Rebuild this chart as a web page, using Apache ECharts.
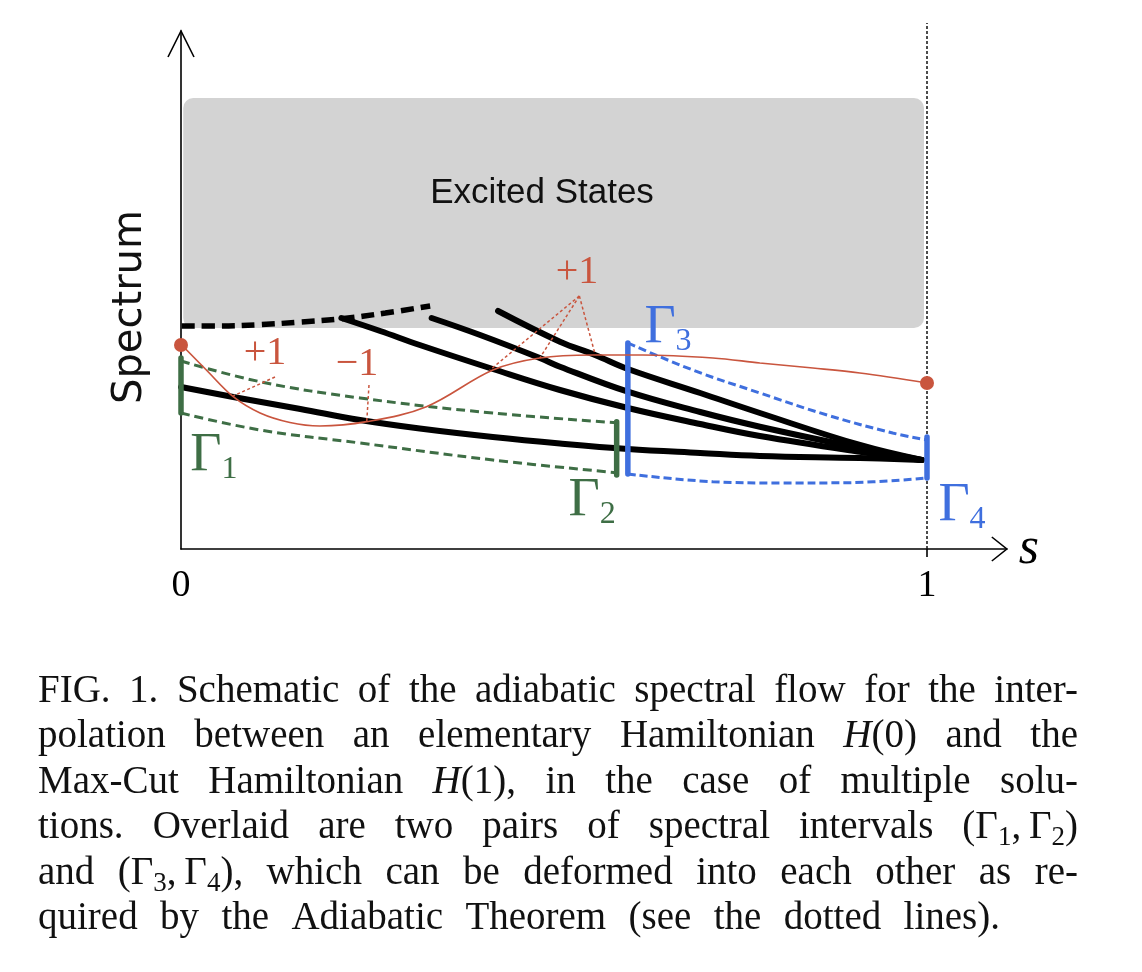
<!DOCTYPE html>
<html>
<head>
<meta charset="utf-8">
<title>Adiabatic spectral flow</title>
<script src="https://cdn.jsdelivr.net/npm/echarts@6.0.0/dist/echarts.min.js"></script>
<style>
  html, body { margin: 0; padding: 0; background: #fff; }
  #main { width: 1142px; height: 972px; }
</style>
</head>
<body>
<div id="main"></div>
<script>
// ---- data: s on the x axis, energy ("Spectrum") on the y axis ----
const sTicks = [0, 1];
const sTickLabels = ['0', '1'];

const excitedBand = [[0.003, 2.21, 0.996, 4.51]]; // [s0, low, s1, high]
const excitedEdge = [[0.001, 2.23], [0.052, 2.23], [0.106, 2.243], [0.160, 2.27], [0.213, 2.30], [0.274, 2.36], [0.334, 2.43]];

const levelA = [[0, 1.62], [0.070, 1.52], [0.160, 1.40], [0.240, 1.29], [0.320, 1.205], [0.418, 1.12], [0.508, 1.055], [0.599, 1.00], [0.696, 0.96], [0.776, 0.93], [0.910, 0.91], [0.993, 0.89]];
const levelB = [[0.215, 2.31], [0.267, 2.18], [0.320, 2.04], [0.418, 1.80], [0.508, 1.59], [0.599, 1.41], [0.696, 1.25], [0.776, 1.13], [0.910, 0.973], [0.993, 0.89]];
const levelC = [[0.336, 2.31], [0.401, 2.14], [0.481, 1.91], [0.508, 1.823], [0.599, 1.573], [0.696, 1.37], [0.776, 1.223], [0.910, 1.01], [0.993, 0.89]];
const levelD = [[0.425, 2.38], [0.508, 2.073], [0.555, 1.94], [0.599, 1.80], [0.696, 1.56], [0.776, 1.36], [0.910, 1.04], [0.993, 0.89]];

const flowCurve = [[0.001, 2.04], [0.034, 1.79], [0.070, 1.523], [0.106, 1.36], [0.146, 1.265], [0.186, 1.23], [0.249, 1.273], [0.329, 1.423], [0.418, 1.79], [0.481, 1.91], [0.552, 1.94], [0.619, 1.94], [0.713, 1.91], [0.776, 1.86], [0.847, 1.81], [0.910, 1.76], [1.0, 1.66]];
const flowEnds = [[0, 2.04], [1, 1.66]];

const gamma1 = [[0, 1.91], [0, 1.36]];
const gamma2 = [[0.584, 1.273], [0.584, 0.74]];
const greenUpper = [[0, 1.88], [0.106, 1.673], [0.240, 1.51], [0.418, 1.36], [0.584, 1.263]];
const greenLower = [[0, 1.36], [0.106, 1.19], [0.240, 1.06], [0.418, 0.89], [0.584, 0.763]];

const gamma3 = [[0.599, 2.06], [0.599, 0.75]];
const gamma4 = [[1, 1.12], [1, 0.71]];
const blueUpper = [[0.599, 2.06], [0.686, 1.79], [0.776, 1.56], [0.866, 1.34], [0.954, 1.16], [1, 1.09]];
const blueLower = [[0.599, 0.75], [0.713, 0.673], [0.803, 0.66], [0.893, 0.663], [1, 0.71]];

const endLine = [[1, 0], [1, 5.26]];

const leaders = [
  [[0.126, 1.72], [0.070, 1.53]],
  [[0.252, 1.64], [0.249, 1.273]],
  [[0.534, 2.53], [0.414, 1.79]],
  [[0.534, 2.53], [0.481, 1.91]],
  [[0.534, 2.53], [0.555, 1.95]]
];
const countLabels = ['+1', '\u22121', '+1'];
const countAt = [[0.1126, 1.96], [0.236, 1.85], [0.5308, 2.77]];

const gammaSubs = ['1', '2', '3', '4'];
const gammaAt = [[0.0442, 0.93], [0.551, 0.48], [0.6528, 2.21], [1.0469, 0.43]];

const captionLines = [
  'FIG. 1. Schematic of the adiabatic spectral flow for the inter-',
  'polation between an elementary Hamiltonian *H*(0) and the',
  'Max-Cut Hamiltonian *H*(1), in the case of multiple solu-',
  'tions. Overlaid are two pairs of spectral intervals (\u0393_1,\u2009\u0393_2)',
  'and (\u0393_3,\u2009\u0393_4), which can be deformed into each other as re-',
  'quired by the Adiabatic Theorem (see the dotted lines).'
];
const captionRight = [1078, 1078, 1078, 1078, 1078, 1000];

// ---- styles ----
const RED = '#c9553e', GREEN = '#3e6e45', BLUE = '#3f6fde';
const SERIF = '"Liberation Serif", "Times New Roman", serif';
const SANS = '"Liberation Sans", Arial, Helvetica, sans-serif';
const X_MAX = 1.107, Y_MAX = 5.18;

const chart = echarts.init(document.getElementById('main'));

function curve(data, color, width, type, extra) {
  return Object.assign({
    type: 'line', data: data, showSymbol: false, symbol: 'none', silent: true,
    lineStyle: { color: color, width: width, type: type || 'solid', cap: 'round' }
  }, extra || {});
}

const series = [
  {
    type: 'custom', silent: true, z: 1,
    data: excitedBand,
    renderItem: function (params, api) {
      const p0 = api.coord([api.value(0), api.value(3)]);
      const p1 = api.coord([api.value(2), api.value(1)]);
      return {
        type: 'rect',
        shape: { x: p0[0], y: p0[1], width: p1[0] - p0[0], height: p1[1] - p0[1], r: 10 },
        style: { fill: '#d3d3d3' }
      };
    }
  },
  curve(endLine, '#111', 1.5, [3, 2], { clip: false, z: 2, lineStyle: { color: '#111', width: 1.5, type: [3, 2] } }),
  curve(greenUpper, GREEN, 3, [9, 5], { smooth: 0.4, z: 3, lineStyle: { color: GREEN, width: 3, type: [9, 5] } }),
  curve(greenLower, GREEN, 3, [9, 5], { smooth: 0.4, z: 3, lineStyle: { color: GREEN, width: 3, type: [9, 5] } }),
  curve(blueUpper, BLUE, 3, [8, 4], { smooth: 0.4, z: 3, lineStyle: { color: BLUE, width: 3, type: [8, 4] } }),
  curve(blueLower, BLUE, 3, [8, 4], { smooth: 0.4, z: 3, lineStyle: { color: BLUE, width: 3, type: [8, 4] } }),
  curve(excitedEdge, '#000', 5.5, [13, 7], { smooth: 0.4, z: 4, lineStyle: { color: '#000', width: 5.5, type: [13, 7] } }),
  curve(levelA, '#000', 6, 'solid', { smooth: 0.4, z: 4 }),
  curve(levelB, '#000', 6, 'solid', { smooth: 0.4, z: 4 }),
  curve(levelC, '#000', 6, 'solid', { smooth: 0.4, z: 4 }),
  curve(levelD, '#000', 6, 'solid', { smooth: 0.4, z: 4 }),
  curve(gamma1, GREEN, 5.5, 'solid', { z: 5 }),
  curve(gamma2, GREEN, 5.5, 'solid', { z: 5 }),
  curve(gamma3, BLUE, 5.5, 'solid', { z: 5 }),
  curve(gamma4, BLUE, 5.5, 'solid', { z: 5 }),
  curve(flowCurve, RED, 1.7, 'solid', { smooth: 0.35, z: 6 }),
  {
    type: 'scatter', data: flowEnds, symbol: 'circle', symbolSize: 14, silent: true, z: 7,
    itemStyle: { color: RED, opacity: 1 }
  }
];

leaders.forEach(function (seg) {
  series.push({
    type: 'line', data: seg, showSymbol: false, symbol: 'none', silent: true, z: 6,
    lineStyle: { color: RED, width: 1.5, type: [3, 2.5] }
  });
});

// text annotations placed through the axes
const hidden = { color: 'transparent', opacity: 1 };
series.push({
  type: 'scatter', silent: true, z: 8, symbolSize: 1, itemStyle: hidden,
  data: countLabels.map(function (t, i) { return { value: countAt[i], name: t }; }),
  label: {
    show: true, position: 'inside', opacity: 1, formatter: function (p) { return p.name; },
    color: RED, fontFamily: SERIF, fontSize: 40
  }
});
series.push({
  type: 'scatter', silent: true, z: 8, symbolSize: 1, itemStyle: hidden,
  data: gammaSubs.map(function (t, i) {
    return { value: gammaAt[i], name: t, label: { color: i < 2 ? GREEN : BLUE } };
  }),
  label: {
    show: true, position: 'inside', opacity: 1,
    formatter: function (p) { return '{g|\u0393}{s|' + p.name + '}'; },
    rich: {
      g: { fontFamily: SERIF, fontSize: 54, lineHeight: 60 },
      s: { fontFamily: SERIF, fontSize: 32, lineHeight: 32, verticalAlign: 'bottom' }
    }
  }
});
series.push({
  type: 'scatter', silent: true, z: 8, symbolSize: 1, itemStyle: hidden,
  data: [{ value: [0.4839, 3.56], name: 'Excited States' }],
  label: {
    show: true, position: 'inside', opacity: 1, formatter: function (p) { return p.name; },
    color: '#111', fontFamily: SANS, fontSize: 35
  }
});

const option = {
  animation: false,
  backgroundColor: '#fff',
  grid: { left: 181, right: 1142 - 181 - 746 * X_MAX, top: 31, bottom: 423, containLabel: false },
  xAxis: {
    type: 'value', min: 0, max: X_MAX,
    name: 's', nameLocation: 'end', nameGap: 12,
    nameTextStyle: { fontFamily: SERIF, fontStyle: 'italic', fontSize: 52, color: '#000', verticalAlign: 'middle' },
    axisLine: { show: true, onZero: false, lineStyle: { color: '#000', width: 1.6 } },
    axisTick: { show: true, customValues: [1], length: 8, lineStyle: { color: '#000', width: 1.6 } },
    axisLabel: {
      show: true, customValues: sTicks, margin: 18,
      formatter: function (v) { return sTickLabels[sTicks.indexOf(v)]; },
      fontFamily: SERIF, fontSize: 38, color: '#000'
    },
    splitLine: { show: false }
  },
  yAxis: {
    type: 'value', min: 0, max: Y_MAX,
    name: 'Spectrum', nameLocation: 'middle', nameGap: 30, nameRotate: 90,
    nameTextStyle: { fontFamily: '"DejaVu Sans", sans-serif', fontSize: 40, color: '#111', padding: [0, 34, 0, 0] },
    axisLine: { show: true, onZero: false, lineStyle: { color: '#000', width: 1.6 } },
    axisTick: { show: false },
    axisLabel: { show: false },
    splitLine: { show: false }
  },
  series: series
};

chart.setOption(option);

// open arrow heads on both axes
const yTip = chart.convertToPixel({ gridIndex: 0 }, [0, Y_MAX]);
const xTip = chart.convertToPixel({ gridIndex: 0 }, [X_MAX, 0]);
const graphics = [
  {
    type: 'polyline', silent: true, z: 10,
    shape: { points: [[yTip[0] - 13, yTip[1] + 26], yTip, [yTip[0] + 13, yTip[1] + 26]] },
    style: { stroke: '#000', lineWidth: 1.6, fill: null }
  },
  {
    type: 'polyline', silent: true, z: 10,
    shape: { points: [[xTip[0] - 15, xTip[1] - 12], xTip, [xTip[0] - 15, xTip[1] + 12]] },
    style: { stroke: '#000', lineWidth: 1.6, fill: null }
  }
];

// justified caption
const CAP_SIZE = 39, SUB_SIZE = 27, CAP_LEFT = 38, CAP_BASE = 705, CAP_LEAD = 45.4;
const ctx = document.createElement('canvas').getContext('2d');
function parseWord(word) {
  const out = [];
  const re = /\*([^*]+)\*|_([0-9])|([^*_]+)/g;
  let m;
  while ((m = re.exec(word)) !== null) {
    let seg;
    if (m[1]) seg = { text: m[1], font: 'italic ' + CAP_SIZE + 'px ' + SERIF, size: CAP_SIZE, shift: 0 };
    else if (m[2]) seg = { text: m[2], font: SUB_SIZE + 'px ' + SERIF, size: SUB_SIZE, shift: 6 };
    else seg = { text: m[3], font: CAP_SIZE + 'px ' + SERIF, size: CAP_SIZE, shift: 0 };
    ctx.font = seg.font;
    seg.w = ctx.measureText(seg.text).width;
    out.push(seg);
  }
  return out;
}
captionLines.forEach(function (line, i) {
  const words = line.split(' ').map(parseWord);
  const widths = words.map(function (w) { return w.reduce(function (a, s) { return a + s.w; }, 0); });
  const total = widths.reduce(function (a, b) { return a + b; }, 0);
  const gap = (captionRight[i] - CAP_LEFT - total) / (words.length - 1);
  const base = CAP_BASE + CAP_LEAD * i;
  let x = CAP_LEFT;
  words.forEach(function (segs, k) {
    let sx = x;
    segs.forEach(function (s) {
      graphics.push({
        type: 'text', silent: true, x: sx, y: base + s.shift - 0.34 * s.size,
        style: {
          text: s.text, font: s.font, fill: '#111',
          textAlign: 'left', textVerticalAlign: 'middle', align: 'left', verticalAlign: 'middle'
        }
      });
      sx += s.w;
    });
    x += widths[k] + gap;
  });
});

chart.setOption({ graphic: graphics });
</script>
</body>
</html>
